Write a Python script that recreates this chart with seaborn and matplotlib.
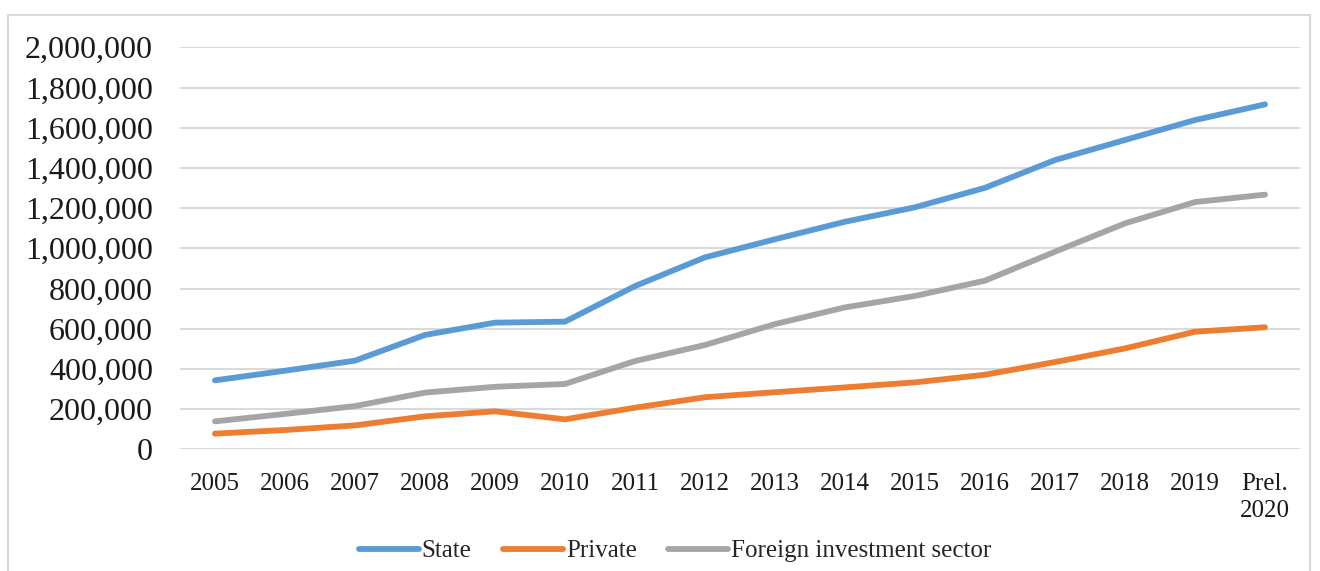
import matplotlib
matplotlib.use("Agg")
import matplotlib.pyplot as plt
import matplotlib.patches as mpatches
import seaborn as sns
import pandas as pd

years = ["2005", "2006", "2007", "2008", "2009", "2010", "2011", "2012",
         "2013", "2014", "2015", "2016", "2017", "2018", "2019", "Prel.\n2020"]
state = [343000, 391000, 441000, 569000, 630000, 635000, 812000, 955000,
         1045000, 1132000, 1204000, 1301000, 1439000, 1539000, 1638000, 1716000]
private = [78000, 96000, 119000, 164000, 189000, 149000, 207000, 259000,
           284000, 308000, 333000, 371000, 434000, 502000, 585000, 607000]
foreign = [139000, 176000, 215000, 282000, 311000, 325000, 439000, 519000,
           623000, 706000, 763000, 839000, 983000, 1124000, 1230000, 1267000]
series_names = ["State", "Private", "Foreign investment sector"]
colors = ["#5B9BD5", "#ED7D31", "#A5A5A5"]
y_ticks = list(range(0, 2000001, 200000))

rows = []
for name, vals in zip(series_names, [state, private, foreign]):
    for i, (yr, v) in enumerate(zip(years, vals)):
        rows.append({"idx": i, "year": yr, "value": v, "series": name})
df = pd.DataFrame(rows)

sns.set_style("white")
plt.rcParams['font.family'] = ['Liberation Serif', 'DejaVu Serif']

fig = plt.figure(figsize=(13.2, 5.71), dpi=100)
ax = fig.add_axes([180/1320, 1-449.3/571, 1120/1320, 402/571])

sns.lineplot(data=df, x="idx", y="value", hue="series", hue_order=series_names,
             palette=colors, linewidth=4.2, ax=ax, legend=True)

ax.set_xlim(-0.5, len(years) - 0.5)
ax.set_ylim(0, 2000000)
ax.set_yticks(y_ticks)
ax.set_yticklabels([f"{v:,}" for v in y_ticks], fontsize=23, color="#1a1a1a")
ax.set_xticks(range(len(years)))
ax.set_xticklabels(years, fontsize=18, color="#1a1a1a", linespacing=1.3)
ax.tick_params(axis="y", length=0, pad=19.5)
ax.tick_params(axis="x", length=0, pad=17)
ax.set_xlabel("")
ax.set_ylabel("")
ax.grid(axis="y", color="#D9D9D9", linewidth=1.4)
ax.grid(axis="x", visible=False)
for s in ["top", "right", "left", "bottom"]:
    ax.spines[s].set_visible(False)
ax.set_axisbelow(True)

for line in ax.get_lines():
    line.set_solid_capstyle("round")

leg = ax.legend(loc="center", bbox_to_anchor=((675 - 180) / 1120, -(551 - 449.3) / 402),
                ncol=3, frameon=False, fontsize=18, handlelength=2.4,
                handletextpad=0.12, columnspacing=1.25, borderpad=0)
for h in leg.get_lines():
    h.set_linewidth(4.2)
    h.set_solid_capstyle("round")

border = mpatches.Rectangle((8/1320, -0.01), 1310/1320 - 8/1320, 1 - 15/571 + 0.01,
                            transform=fig.transFigure, fill=False,
                            edgecolor="#D9D9D9", linewidth=1.5)
fig.patches.append(border)

fig.savefig("out.png", dpi=100)
